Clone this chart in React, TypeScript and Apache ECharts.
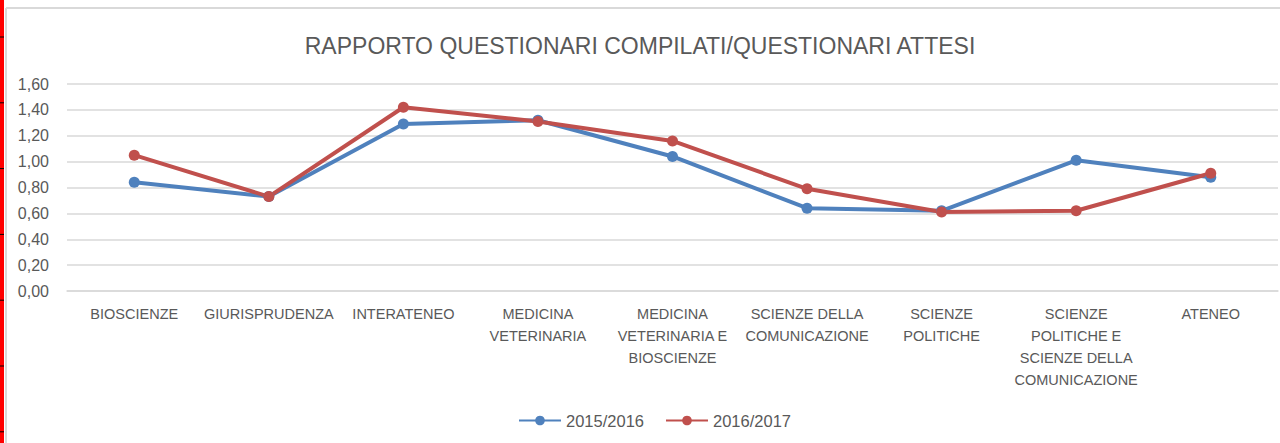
import React, { useEffect, useRef } from "react";
import * as echarts from "echarts";

const categories = [
  "BIOSCIENZE",
  "GIURISPRUDENZA",
  "INTERATENEO",
  "MEDICINA\nVETERINARIA",
  "MEDICINA\nVETERINARIA E\nBIOSCIENZE",
  "SCIENZE DELLA\nCOMUNICAZIONE",
  "SCIENZE\nPOLITICHE",
  "SCIENZE\nPOLITICHE E\nSCIENZE DELLA\nCOMUNICAZIONE",
  "ATENEO",
];
const series2015 = [0.84, 0.73, 1.29, 1.32, 1.04, 0.64, 0.62, 1.01, 0.88];
const series2016 = [1.05, 0.73, 1.42, 1.31, 1.16, 0.79, 0.61, 0.62, 0.91];
const seriesNames = ["2015/2016", "2016/2017"];
const yTicks = { min: 0, max: 1.6, interval: 0.2 };

const FONT = "Liberation Sans";
const TXT = "#595959";

export default function App() {
  const ref = useRef<HTMLDivElement>(null);
  useEffect(() => {
    if (!ref.current) return;
    const chart = echarts.init(ref.current, undefined, { renderer: "svg" });
    const ticks: any[] = [];
    for (let i = 0; i < 7; i++) {
      const y = 37 + i * 65.8;
      ticks.push({
        type: "line",
        shape: { x1: 0, y1: y, x2: 4, y2: y },
        style: { stroke: "#000", lineWidth: 1 },
        silent: true,
      });
    }
    chart.setOption({
      animation: false,
      backgroundColor: "#fff",
      textStyle: { fontFamily: FONT },
      title: {
        text: "RAPPORTO QUESTIONARI COMPILATI/QUESTIONARI ATTESI",
        left: "center",
        top: 29,
        textStyle: { fontFamily: FONT, fontSize: 23, fontWeight: "normal", color: TXT },
      },
      grid: { left: 67, right: 2, top: 84, bottom: 152, containLabel: false },
      legend: {
        data: seriesNames,
        bottom: 9,
        left: 513,
        itemWidth: 42,
        itemHeight: 12,
        itemGap: 21,
        textStyle: { fontFamily: FONT, fontSize: 16.5, color: TXT },
      },
      xAxis: {
        type: "category",
        data: categories,
        boundaryGap: true,
        axisLine: { show: true, lineStyle: { color: "#d9d9d9", width: 1.5 } },
        axisTick: { show: false },
        axisLabel: {
          interval: 0,
          color: TXT,
          fontFamily: FONT,
          fontSize: 14.5,
          lineHeight: 22,
          margin: 12,
        },
      },
      yAxis: {
        type: "value",
        min: yTicks.min,
        max: yTicks.max,
        interval: yTicks.interval,
        axisLine: { show: false },
        axisTick: { show: false },
        splitLine: { lineStyle: { color: "#d9d9d9", width: 1.5 } },
        axisLabel: {
          color: TXT,
          fontFamily: FONT,
          fontSize: 16,
          margin: 18,
          formatter: (v: number) => v.toFixed(2).replace(".", ","),
        },
      },
      series: [
        {
          name: seriesNames[0],
          type: "line",
          data: series2015,
          symbol: "circle",
          symbolSize: 11,
          color: "#4f81bd",
          lineStyle: { width: 4, color: "#4f81bd" },
          itemStyle: { color: "#4f81bd" },
        },
        {
          name: seriesNames[1],
          type: "line",
          data: series2016,
          symbol: "circle",
          symbolSize: 11,
          color: "#c0504d",
          lineStyle: { width: 4, color: "#c0504d" },
          itemStyle: { color: "#c0504d" },
        },
      ],
      graphic: [
        {
          type: "rect",
          shape: { x: 0, y: 0, width: 4, height: 443 },
          style: { fill: "#ff0000" },
          silent: true,
        },
        ...ticks,
        {
          type: "line",
          shape: { x1: 6, y1: 8, x2: 1280, y2: 8 },
          style: { stroke: "#d9d9d9", lineWidth: 2 },
          silent: true,
        },
        {
          type: "line",
          shape: { x1: 6, y1: 8, x2: 6, y2: 443 },
          style: { stroke: "#d9d9d9", lineWidth: 2 },
          silent: true,
        },
      ],
    });
    return () => chart.dispose();
  }, []);
  return (
    <div
      ref={ref}
      style={{ position: "absolute", left: 0, top: 0, width: 1280, height: 443 }}
    />
  );
}
